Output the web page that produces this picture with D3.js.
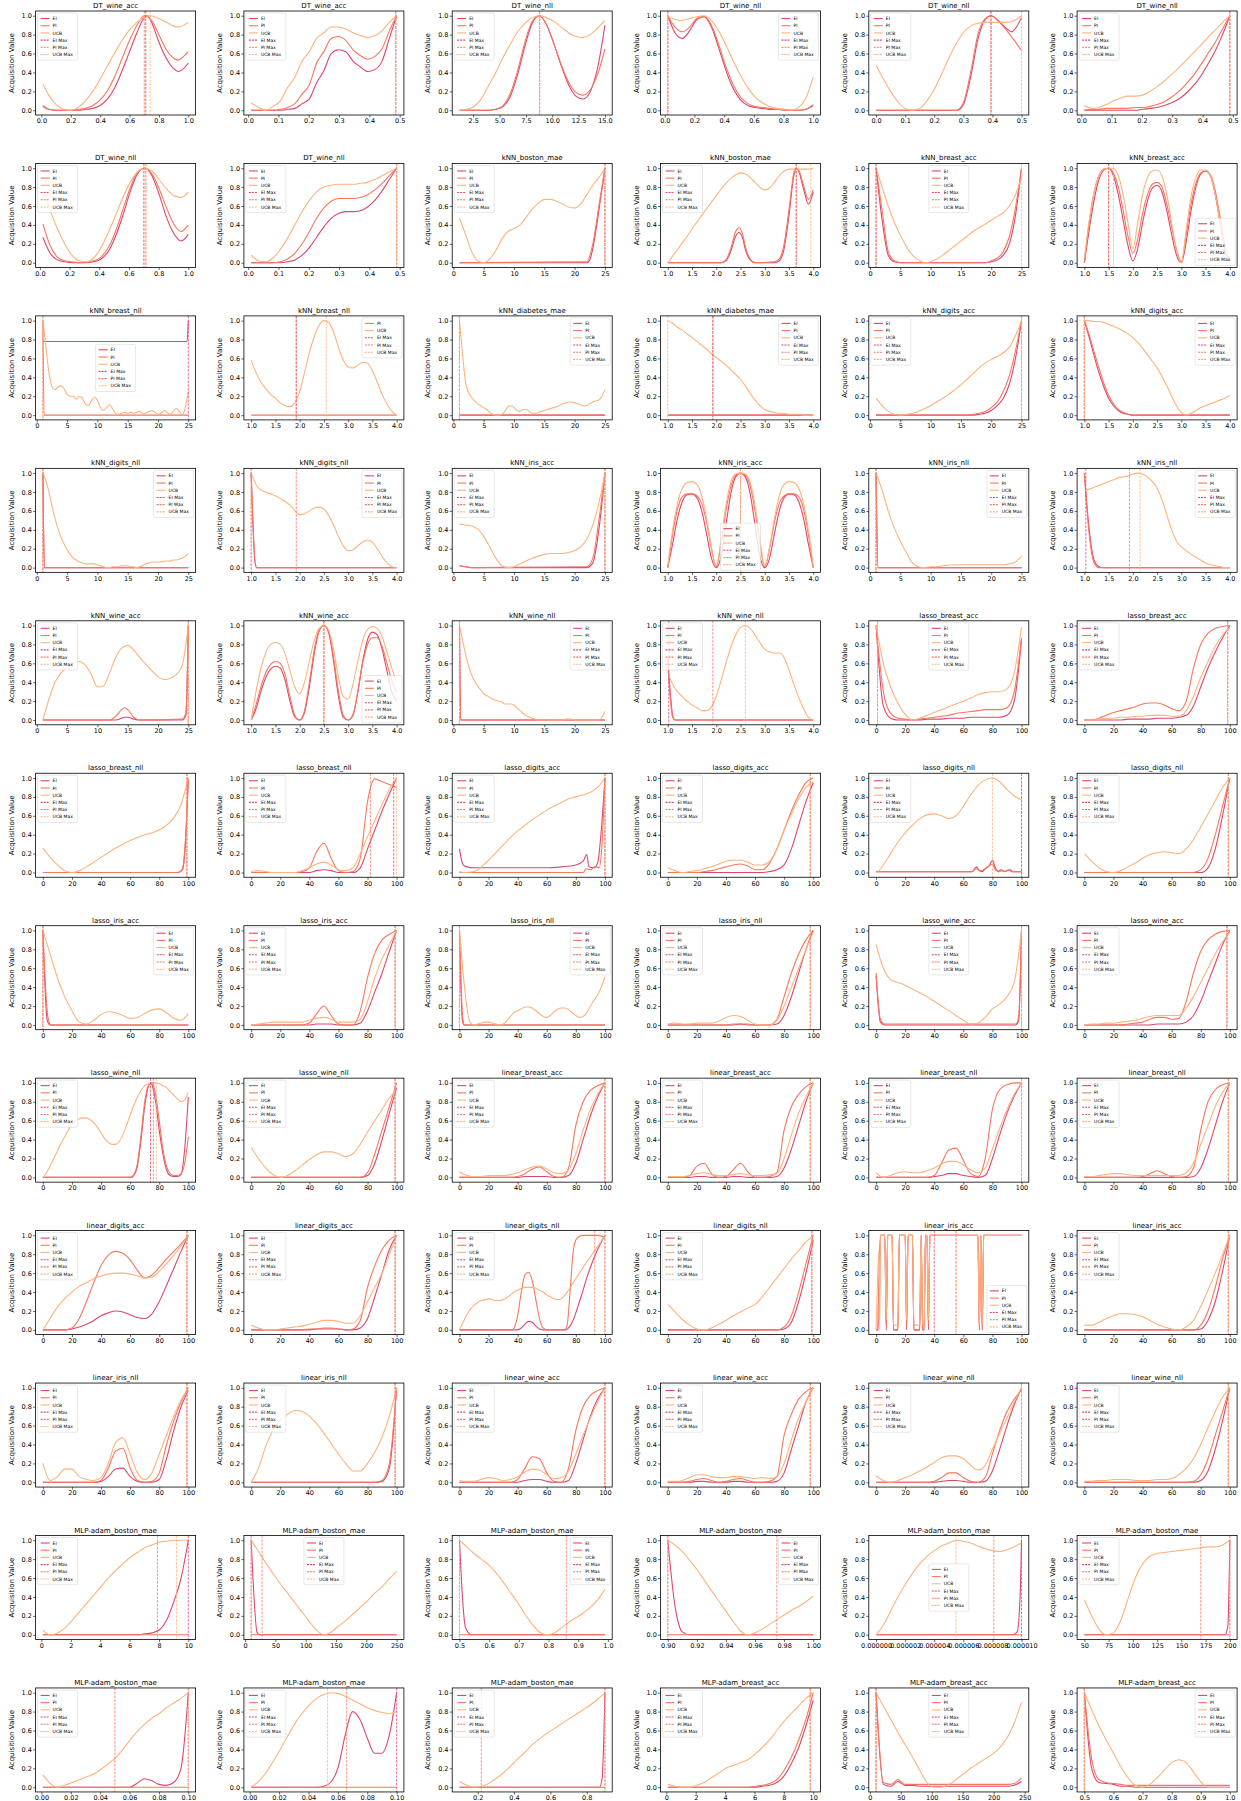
<!DOCTYPE html>
<html><head><meta charset="utf-8">
<script src="https://cdnjs.cloudflare.com/ajax/libs/d3/7.8.5/d3.min.js"></script>
<style>
body{margin:0;background:#fff;}
svg{display:block;font-family:"DejaVu Sans",sans-serif;}
</style></head><body>
<svg id="chart" width="1241" height="1801"></svg>
<script>
// ---------- DATA ----------
const titles = [
"DT_wine_acc","DT_wine_acc","DT_wine_nll","DT_wine_nll","DT_wine_nll","DT_wine_nll",
"DT_wine_nll","DT_wine_nll","kNN_boston_mae","kNN_boston_mae","kNN_breast_acc","kNN_breast_acc",
"kNN_breast_nll","kNN_breast_nll","kNN_diabetes_mae","kNN_diabetes_mae","kNN_digits_acc","kNN_digits_acc",
"kNN_digits_nll","kNN_digits_nll","kNN_iris_acc","kNN_iris_acc","kNN_iris_nll","kNN_iris_nll",
"kNN_wine_acc","kNN_wine_acc","kNN_wine_nll","kNN_wine_nll","lasso_breast_acc","lasso_breast_acc",
"lasso_breast_nll","lasso_breast_nll","lasso_digits_acc","lasso_digits_acc","lasso_digits_nll","lasso_digits_nll",
"lasso_iris_acc","lasso_iris_acc","lasso_iris_nll","lasso_iris_nll","lasso_wine_acc","lasso_wine_acc",
"lasso_wine_nll","lasso_wine_nll","linear_breast_acc","linear_breast_acc","linear_breast_nll","linear_breast_nll",
"linear_digits_acc","linear_digits_acc","linear_digits_nll","linear_digits_nll","linear_iris_acc","linear_iris_acc",
"linear_iris_nll","linear_iris_nll","linear_wine_acc","linear_wine_acc","linear_wine_nll","linear_wine_nll",
"MLP-adam_boston_mae","MLP-adam_boston_mae","MLP-adam_boston_mae","MLP-adam_boston_mae","MLP-adam_boston_mae","MLP-adam_boston_mae",
"MLP-adam_boston_mae","MLP-adam_boston_mae","MLP-adam_boston_mae","MLP-adam_breast_acc","MLP-adam_breast_acc","MLP-adam_breast_acc"
];

// data x range of every panel
const xRanges = [
[0.01,1],[0.01,0.49],[1.2,15],[0.02,1],[0,0.5],[0.01,0.49],
[0.02,1],[0.01,0.49],[1,25],[1,4],[1,25],[1,4],
[1,25],[1,4],[1,25],[1,4],[1,25],[1,4],
[1,25],[1,4],[1,25],[1,4],[1,25],[1,4],
[1,25],[1,4],[1,25],[1,4],[0,100],[0,100],
[0,100],[0,100],[0,100],[0,100],[0,100],[0,100],
[0,100],[0,100],[0,100],[0,100],[0,100],[0,100],
[0,100],[0,100],[0,100],[0,100],[0,100],[0,100],
[0,100],[0,100],[0,100],[0,100],[0,100],[0,100],
[0,100],[0,100],[0,100],[0,100],[0,100],[0,100],
[0.1,10],[10,250],[0.5,0.99],[0.9,1.0],[0,0.00001],[50,200],
[0.001,0.1],[0.001,0.1],[0.1,0.9],[0.1,10],[10,245],[0.5,1.0]
];

const T_0_1 = ["0.0","0.2","0.4","0.6","0.8","1.0"];
const T_0_05 = ["0.0","0.1","0.2","0.3","0.4","0.5"];
const T_15 = ["2.5","5.0","7.5","10.0","12.5","15.0"];
const T_25 = ["0","5","10","15","20","25"];
const T_1_4 = ["1.0","1.5","2.0","2.5","3.0","3.5","4.0"];
const T_100 = ["0","20","40","60","80","100"];
const T_10 = ["0","2","4","6","8","10"];
const T_250 = ["0","50","100","150","200","250"];
const T_05_1 = ["0.5","0.6","0.7","0.8","0.9","1.0"];
const T_09_1 = ["0.90","0.92","0.94","0.96","0.98","1.00"];
const T_tiny = ["0.000000","0.000002","0.000004","0.000006","0.000008","0.000010"];
const T_50_200 = ["50","75","100","125","150","175","200"];
const T_0_01 = ["0.00","0.02","0.04","0.06","0.08","0.10"];
const T_02_08 = ["0.2","0.4","0.6","0.8"];
const yTickLabels = ["0.0","0.2","0.4","0.6","0.8","1.0"];

const xTickLabels = [
T_0_1,T_0_05,T_15,T_0_1,T_0_05,T_0_05,
T_0_1,T_0_05,T_25,T_1_4,T_25,T_1_4,
T_25,T_1_4,T_25,T_1_4,T_25,T_1_4,
T_25,T_1_4,T_25,T_1_4,T_25,T_1_4,
T_25,T_1_4,T_25,T_1_4,T_100,T_100,
T_100,T_100,T_100,T_100,T_100,T_100,
T_100,T_100,T_100,T_100,T_100,T_100,
T_100,T_100,T_100,T_100,T_100,T_100,
T_100,T_100,T_100,T_100,T_100,T_100,
T_100,T_100,T_100,T_100,T_100,T_100,
T_10,T_250,T_05_1,T_09_1,T_tiny,T_50_200,
T_0_01,T_0_01,T_02_08,T_10,T_250,T_05_1
];

// Curves: a plain list = values at evenly spaced x over the panel range; a list of [x,y] = explicit points.
const eiValues = [
/*0*/ [[0.01,0.04],[0.05,0.01],[0.1,0],[0.25,0],[0.3,0.01],[0.35,0.02],[0.4,0.05],[0.45,0.12],[0.5,0.24],[0.55,0.42],[0.6,0.62],[0.65,0.82],[0.7,0.98],[0.72,1.0],[0.75,0.93],[0.8,0.72],[0.85,0.55],[0.9,0.44],[0.93,0.41],[0.96,0.43],[1.0,0.5]],
/*1*/ [0,0,0,0,0,0.01,0.02,0.07,0.12,0.29,0.42,0.6,0.64,0.62,0.52,0.46,0.41,0.43,0.52,0.76,1.0],
/*2*/ [0,0,0,0,0,0.01,0.04,0.15,0.38,0.68,0.92,1.0,0.9,0.7,0.47,0.27,0.15,0.12,0.2,0.45,0.9],
/*3*/ [1.0,0.82,0.76,0.84,0.96,0.99,0.88,0.66,0.42,0.23,0.11,0.05,0.03,0.02,0.01,0.01,0,0,0,0.01,0.05],
/*4*/ [[0,0],[0.28,0],[0.3,0.06],[0.325,0.35],[0.35,0.75],[0.375,0.96],[0.395,1.0],[0.42,0.95],[0.45,0.86],[0.465,0.83],[0.48,0.87],[0.5,0.98]],
/*5*/ [0,0,0,0,0,0,0,0,0.01,0.02,0.03,0.05,0.08,0.12,0.18,0.26,0.36,0.49,0.63,0.8,1.0],
/*6*/ [0.27,0.1,0.03,0.01,0,0,0,0.01,0.04,0.12,0.28,0.5,0.75,0.94,1.0,0.92,0.72,0.48,0.31,0.23,0.3],
/*7*/ [0,0,0,0,0,0.01,0.03,0.08,0.16,0.27,0.38,0.47,0.52,0.54,0.54,0.55,0.59,0.66,0.76,0.88,1.0],
/*8*/ [[1,0],[22,0],[22.5,0.03],[23,0.15],[24,0.55],[25,1.0]],
/*9*/ [[1,0],[2.1,0],[2.2,0.02],[2.3,0.12],[2.4,0.28],[2.47,0.32],[2.55,0.25],[2.6,0.14],[2.7,0.03],[2.8,0],[3.2,0],[3.3,0.02],[3.4,0.15],[3.5,0.5],[3.6,0.92],[3.65,1.0],[3.7,0.97],[3.8,0.78],[3.9,0.62],[4,0.75]],
/*10*/ [[1,1.0],[2,0.45],[3,0.08],[4,0.01],[5,0],[19,0],[20,0.01],[21,0.03],[22,0.08],[23,0.2],[24,0.5],[25,1.0]],
/*11*/ [0,0.35,0.66,0.88,0.98,1.0,0.92,0.72,0.45,0.18,0.02,0.15,0.42,0.65,0.79,0.82,0.75,0.55,0.3,0.08,0,0.22,0.55,0.8,0.94,0.97,0.92,0.72,0.42,0.13,0],
/*12*/ [[1,0.78],[24.8,0.78],[25,1.0]],
/*13*/ null,
/*14*/ [[1,0],[25,0]],
/*15*/ [[1,0],[4,0]],
/*16*/ [[1,0],[17,0],[18,0.01],[19,0.02],[20,0.05],[21,0.1],[22,0.18],[23,0.33],[24,0.6],[25,1.0]],
/*17*/ [[1,1],[1.1,0.82],[1.2,0.63],[1.3,0.45],[1.4,0.3],[1.5,0.18],[1.6,0.1],[1.7,0.05],[1.8,0.02],[1.9,0.01],[2,0],[4,0]],
/*18*/ [[1,1],[1.25,0],[25,0]],
/*19*/ [[1,1],[1.08,0.05],[1.12,0],[4,0]],
/*20*/ [[1,0.02],[2,0.01],[3,0],[22,0],[23,0.05],[24,0.4],[25,1]],
/*21*/ [0,0.25,0.52,0.7,0.77,0.78,0.74,0.6,0.36,0.1,0,0.12,0.45,0.78,0.96,1.0,0.96,0.78,0.45,0.12,0,0.1,0.36,0.6,0.74,0.78,0.77,0.7,0.52,0.25,0],
/*22*/ [[1,1],[1.3,0],[25,0]],
/*23*/ [[1,1],[1.1,0.4],[1.2,0.08],[1.3,0.01],[1.4,0],[4,0]],
/*24*/ [[1,0],[13,0],[14,0.02],[14.5,0.03],[15,0.03],[16,0.01],[17,0],[24,0],[24.6,0.05],[25,1]],
/*25*/ [0,0.12,0.3,0.45,0.54,0.57,0.55,0.42,0.2,0.03,0,0.08,0.35,0.7,0.94,1.0,0.92,0.62,0.25,0.03,0,0.05,0.3,0.62,0.85,0.93,0.9,0.75,0.52,0.3,0.2],
/*26*/ [[1,1],[1.2,0],[25,0]],
/*27*/ [[1,0.65],[1.05,0.3],[1.1,0.05],[1.15,0],[4,0]],
/*28*/ [1.0,0.15,0.02,0,0,0,0,0.01,0.01,0.01,0.02,0.02,0.02,0.03,0.03,0.03,0.03,0.03,0.05,0.2,0.85],
/*29*/ [0,0,0,0,0,0,0.01,0.01,0.01,0.01,0.02,0.02,0.02,0.03,0.05,0.15,0.35,0.55,0.72,0.87,1.0],
/*30*/ [[0,0],[93,0],[96,0.03],[98,0.3],[100,1.0]],
/*31*/ [0,0,0,0,0,0,0,0,0,0.02,0.03,0.02,0,0,0,0.05,0.25,0.45,0.65,0.83,1.0],
/*32*/ [[0,0.25],[2.5,0.08],[5,0.06],[10,0.05],[60,0.05],[70,0.06],[80,0.08],[85,0.12],[87.5,0.19],[89,0.06],[92.5,0.05],[95,0.1],[97.5,0.45],[100,1.0]],
/*33*/ [0,0,0,0,0,0,0,0,0,0,0,0,0,0,0.01,0.03,0.08,0.25,0.5,0.75,0.95],
/*34*/ [[0,0.01],[66,0.01],[69,0.06],[71,0.02],[73,0.01],[75,0.04],[78,0.08],[80,0.13],[82,0.05],[84,0.01],[86,0.03],[88,0.01],[90,0.02],[92,0.03],[94,0.01],[100,0.01]],
/*35*/ [0,0,0,0,0,0,0,0,0,0,0,0,0,0,0,0,0,0.05,0.25,0.6,1.0],
/*36*/ [[0,1],[3,0.05],[5,0],[100,0]],
/*37*/ [0,0,0,0,0,0,0,0,0,0.01,0.01,0.01,0,0,0,0.02,0.15,0.35,0.55,0.78,1.0],
/*38*/ [[0,1],[2,0.05],[3,0],[100,0]],
/*39*/ [0,0,0,0,0,0,0,0,0,0,0.01,0,0,0,0,0.01,0.1,0.3,0.55,0.8,1.0],
/*40*/ [[0,0.52],[3,0.03],[6,0],[96,0],[98,0.05],[100,1.0]],
/*41*/ [0,0,0,0,0,0,0,0,0,0,0.01,0.01,0.01,0.01,0.03,0.1,0.25,0.45,0.65,0.85,1.0],
/*42*/ [[0,0],[61,0],[62.5,0.02],[65,0.12],[67.5,0.4],[70,0.75],[72.5,0.96],[74,1.0],[75,0.98],[77.5,0.8],[80,0.5],[82.5,0.25],[85,0.08],[87.5,0.02],[90,0.01],[92.5,0.01],[95,0.03],[97.5,0.3],[100,0.85]],
/*43*/ [0,0,0,0,0,0,0,0,0,0,0,0,0,0,0,0,0.02,0.15,0.4,0.68,0.95],
/*44*/ [0,0,0,0,0,0,0,0,0,0.01,0.01,0.01,0.01,0,0,0.02,0.15,0.4,0.65,0.85,1.0],
/*45*/ [0,0,0,0,0.01,0.01,0,0,0,0.01,0.01,0,0,0,0,0.01,0.1,0.3,0.55,0.8,1.0],
/*46*/ [0,0,0,0,0,0,0,0,0.01,0.02,0.04,0.04,0.02,0.01,0,0.02,0.2,0.45,0.68,0.86,1.0],
/*47*/ [0,0,0,0,0,0,0,0,0,0,0,0,0,0,0,0.01,0.1,0.3,0.55,0.8,1.0],
/*48*/ [0,0,0,0,0.01,0.03,0.06,0.1,0.15,0.18,0.2,0.19,0.16,0.13,0.12,0.17,0.3,0.47,0.65,0.83,1.0],
/*49*/ [0,0,0,0,0,0,0,0,0,0.01,0.01,0.01,0.01,0,0,0.02,0.12,0.35,0.6,0.85,1.0],
/*50*/ [[0,0],[40,0],[42.5,0.02],[45,0.06],[47.5,0.09],[50,0.08],[52.5,0.04],[55,0.01],[57.5,0],[73,0],[75,0.02],[77.5,0.08],[80,0.18],[82.5,0.3],[85,0.42],[87.5,0.55],[90,0.66],[92.5,0.76],[95,0.85],[97.5,0.93],[100,1.0]],
/*51*/ [0,0,0,0,0,0,0,0,0,0,0,0,0,0,0,0,0.01,0.08,0.3,0.6,0.95],
/*52*/ [[0,0],[1.5,0],[2.5,0.5],[3,1],[6,1],[7,0],[8,1],[11,1],[12,0],[15,0],[16,1],[20,1],[21,0],[22,1],[25,1],[26,0],[30,0],[31,1],[32,0],[33,0],[34,1],[35,1],[36,0],[37,1],[70,1],[71,0],[72,1],[73,0],[74,1],[100,1]],
/*53*/ [0,0,0,0,0,0,0,0,0,0,0,0,0,0,0,0,0.01,0.1,0.3,0.62,1.0],
/*54*/ [0,0,0,0,0,0,0,0,0.01,0.06,0.14,0.15,0.06,0.01,0,0,0.03,0.25,0.55,0.8,0.97],
/*55*/ [0,0,0,0,0,0,0,0,0,0,0,0,0,0,0,0,0,0,0.01,0.15,1.0],
/*56*/ [0,0,0,0,0,0,0,0,0,0.02,0.03,0.03,0.01,0,0,0.02,0.2,0.45,0.7,0.88,1.0],
/*57*/ [0,0,0,0,0.01,0.01,0,0,0,0.01,0.01,0,0,0,0,0.01,0.1,0.35,0.6,0.85,1.0],
/*58*/ [0,0,0,0,0,0,0,0,0,0.01,0.02,0.02,0.01,0,0,0.01,0.12,0.35,0.6,0.82,1.0],
/*59*/ [0,0,0,0,0,0,0,0,0,0,0,0,0,0,0,0,0.02,0.12,0.35,0.65,1.0],
/*60*/ [0,0,0,0,0,0,0,0,0,0,0,0,0,0,0.01,0.02,0.05,0.15,0.35,0.6,1.0],
/*61*/ [[10,1],[20,0.02],[25,0],[250,0]],
/*62*/ [[0.5,1],[0.51,0.4],[0.52,0.08],[0.54,0],[0.99,0]],
/*63*/ [[0.9,1],[0.905,0.3],[0.91,0.03],[0.915,0],[1.0,0]],
/*64*/ [[0,0],[0.0000094,0],[0.0000097,0.03],[0.0000099,0.4],[0.00001,1]],
/*65*/ [[50,0],[195,0],[198,0.1],[200,1]],
/*66*/ [[0.001,0],[0.06,0],[0.065,0.04],[0.07,0.09],[0.075,0.07],[0.08,0.03],[0.085,0.02],[0.09,0.05],[0.095,0.2],[0.1,1]],
/*67*/ [[0.001,0],[0.046,0],[0.0505,0.01],[0.055,0.05],[0.06,0.2],[0.065,0.55],[0.07,0.8],[0.075,0.72],[0.08,0.52],[0.085,0.36],[0.09,0.36],[0.095,0.55],[0.1,1]],
/*68*/ [[0.1,0],[0.87,0],[0.885,0.1],[0.9,1]],
/*69*/ [0,0,0,0,0,0,0,0,0,0,0,0,0,0.01,0.02,0.05,0.12,0.25,0.42,0.65,0.92],
/*70*/ [1.0,0.03,0.01,0.06,0.02,0.02,0.01,0.01,0.01,0.01,0.01,0.01,0.01,0.01,0.01,0.01,0.01,0.01,0.01,0.02,0.06],
/*71*/ [1.0,0.2,0.05,0.04,0.03,0.01,0.01,0,0,0,0,0,0,0,0,0,0,0,0,0,0]
];

const piValues = [
/*0*/ [[0.01,0.05],[0.05,0.01],[0.1,0],[0.2,0],[0.25,0.01],[0.3,0.02],[0.35,0.05],[0.4,0.11],[0.45,0.21],[0.5,0.36],[0.55,0.55],[0.6,0.74],[0.65,0.9],[0.7,1.0],[0.75,0.95],[0.8,0.8],[0.85,0.64],[0.9,0.55],[0.93,0.53],[0.96,0.56],[1.0,0.62]],
/*1*/ [0,0,0,0,0.01,0.03,0.07,0.17,0.27,0.5,0.62,0.76,0.78,0.74,0.64,0.58,0.54,0.57,0.65,0.84,1.0],
/*2*/ [0,0,0,0,0,0.01,0.05,0.18,0.42,0.72,0.94,1.0,0.9,0.7,0.48,0.3,0.19,0.16,0.22,0.38,0.65],
/*3*/ [1.0,0.88,0.83,0.88,0.97,0.99,0.9,0.7,0.46,0.27,0.14,0.07,0.04,0.03,0.02,0.01,0.01,0,0,0.01,0.06],
/*4*/ [[0,0],[0.275,0],[0.3,0.08],[0.325,0.4],[0.35,0.8],[0.375,0.97],[0.395,1.0],[0.425,0.93],[0.45,0.84],[0.475,0.74],[0.5,0.63]],
/*5*/ [0,0.01,0.01,0.02,0.02,0.02,0.02,0.03,0.03,0.04,0.06,0.09,0.14,0.2,0.28,0.37,0.48,0.6,0.72,0.86,1.0],
/*6*/ [0.41,0.18,0.06,0.02,0.01,0,0.01,0.02,0.06,0.16,0.33,0.56,0.79,0.96,1.0,0.94,0.78,0.58,0.41,0.33,0.4],
/*7*/ [0,0,0,0,0.01,0.04,0.1,0.2,0.33,0.47,0.58,0.65,0.68,0.68,0.68,0.69,0.72,0.77,0.84,0.92,1.0],
/*8*/ [[1,0],[22,0.01],[23,0.2],[24,0.6],[25,1.0]],
/*9*/ [[1,0],[2.1,0],[2.2,0.03],[2.3,0.15],[2.4,0.33],[2.47,0.37],[2.55,0.29],[2.6,0.17],[2.7,0.04],[2.8,0],[3.2,0.01],[3.3,0.04],[3.4,0.2],[3.5,0.56],[3.6,0.95],[3.65,1.0],[3.7,0.98],[3.8,0.82],[3.9,0.67],[4,0.77]],
/*10*/ [[1,1.0],[2,0.55],[3,0.12],[4,0.02],[5,0],[19,0],[20,0.02],[21,0.05],[22,0.12],[23,0.28],[24,0.58],[25,1.0]],
/*11*/ [0,0.42,0.74,0.92,0.99,1.0,0.95,0.8,0.55,0.28,0.1,0.25,0.52,0.72,0.83,0.85,0.8,0.62,0.38,0.14,0.01,0.3,0.62,0.84,0.95,0.97,0.93,0.76,0.48,0.18,0],
/*12*/ [[1,1.0],[1.2,0],[25,0]],
/*13*/ [[1,0],[4,0]],
/*14*/ [[1,0],[25,0]],
/*15*/ [[1,0],[4,0]],
/*16*/ [[1,0],[16,0],[17,0.01],[18,0.02],[19,0.04],[20,0.08],[21,0.14],[22,0.25],[23,0.42],[24,0.68],[25,1.0]],
/*17*/ [[1,1],[1.1,0.85],[1.2,0.67],[1.3,0.5],[1.4,0.34],[1.5,0.21],[1.6,0.12],[1.7,0.06],[1.8,0.03],[1.9,0.01],[2.0,0],[4,0]],
/*18*/ [[1,1],[1.3,0],[25,0]],
/*19*/ [[1,1],[1.1,0],[4,0]],
/*20*/ [[1,0.02],[2,0.01],[3,0],[22,0.01],[23,0.1],[24,0.5],[25,1]],
/*21*/ [0,0.35,0.62,0.75,0.78,0.78,0.76,0.68,0.48,0.2,0.01,0.25,0.6,0.86,0.98,1.0,0.98,0.86,0.6,0.25,0.01,0.2,0.48,0.68,0.76,0.78,0.78,0.75,0.62,0.35,0],
/*22*/ [[1,1],[1.35,0],[25,0]],
/*23*/ [[1,1],[1.1,0.35],[1.2,0.05],[1.3,0],[4,0]],
/*24*/ [[1,0],[12,0],[13,0.04],[14,0.11],[14.5,0.13],[15,0.11],[16,0.03],[17,0],[24,0.01],[24.6,0.08],[25,1]],
/*25*/ [0,0.16,0.35,0.5,0.59,0.62,0.6,0.48,0.25,0.05,0,0.1,0.4,0.74,0.95,1.0,0.94,0.66,0.3,0.05,0,0.06,0.3,0.6,0.8,0.87,0.87,0.78,0.6,0.42,0.3],
/*26*/ [[1,1],[1.2,0],[25,0]],
/*27*/ [[1,0.6],[1.05,0.25],[1.1,0.03],[1.15,0],[4,0]],
/*28*/ [1.0,0.3,0.07,0.02,0.01,0,0.01,0.02,0.03,0.04,0.05,0.07,0.08,0.09,0.1,0.11,0.11,0.11,0.13,0.3,0.87],
/*29*/ [0,0,0.02,0.05,0.08,0.1,0.12,0.14,0.17,0.18,0.18,0.16,0.12,0.1,0.2,0.55,0.8,0.92,0.97,0.99,1.0],
/*30*/ [[0,0],[93,0],[96,0.04],[98,0.35],[100,1.0]],
/*31*/ [0,0,0,0,0,0,0,0.01,0.05,0.22,0.31,0.15,0.02,0,0.01,0.15,0.75,0.99,0.96,0.93,0.9],
/*32*/ [[0,0],[85,0],[87,0.04],[90,0.03],[93,0.06],[96,0.05],[98,0.3],[100,1.0]],
/*33*/ [0,0,0,0,0,0.01,0.02,0.04,0.06,0.08,0.09,0.07,0.03,0.03,0.1,0.25,0.45,0.65,0.82,0.95,1.0],
/*34*/ [[0,0.01],[66,0.01],[69,0.04],[71,0.02],[74,0.03],[77,0.06],[80,0.09],[82,0.03],[84,0.01],[87,0.02],[89,0.01],[91,0.03],[93,0.01],[100,0.01]],
/*35*/ [0,0,0,0,0,0,0,0,0,0,0,0,0,0,0,0,0.03,0.15,0.4,0.7,1.0],
/*36*/ [[0,1],[3.5,0.08],[5.5,0],[100,0]],
/*37*/ [0,0,0,0,0,0,0,0,0.02,0.12,0.2,0.1,0.01,0,0,0.15,0.5,0.76,0.9,0.96,1.0],
/*38*/ [[0,1],[2.2,0.08],[3.5,0],[100,0]],
/*39*/ [0,0,0,0,0,0,0,0,0,0.01,0.01,0.01,0,0,0,0.06,0.3,0.55,0.75,0.9,1.0],
/*40*/ [[0,0.55],[3,0.06],[6,0.01],[96,0.01],[98,0.08],[100,1.0]],
/*41*/ [0,0,0,0,0,0,0.01,0.02,0.03,0.06,0.08,0.08,0.06,0.07,0.25,0.55,0.78,0.9,0.96,0.99,1.0],
/*42*/ [[0,0],[60,0],[62.5,0.03],[65,0.15],[67.5,0.45],[70,0.8],[72.5,0.97],[75,1.0],[77.5,0.88],[80,0.6],[82.5,0.3],[85,0.12],[87.5,0.04],[90,0.02],[92.5,0.02],[95,0.04],[97.5,0.15],[100,0.43]],
/*43*/ [0,0,0,0,0,0,0,0,0,0,0,0,0,0,0,0,0.05,0.25,0.5,0.75,1.0],
/*44*/ [0,0,0,0,0,0,0,0,0.01,0.04,0.09,0.11,0.06,0.01,0,0.1,0.55,0.8,0.92,0.97,1.0],
/*45*/ [0,0,0,0.02,0.12,0.15,0.04,0,0.01,0.08,0.15,0.06,0,0,0.01,0.05,0.5,0.75,0.88,0.96,1.0],
/*46*/ [0,0,0,0,0,0,0,0,0.02,0.15,0.29,0.31,0.18,0.04,0.01,0.2,0.72,0.93,0.98,1.0,1.0],
/*47*/ [0,0,0,0,0,0,0,0,0.01,0.04,0.07,0.04,0.01,0,0.01,0.1,0.5,0.8,0.93,0.98,1.0],
/*48*/ [0,0,0,0,0.02,0.12,0.3,0.5,0.68,0.79,0.83,0.81,0.74,0.63,0.55,0.58,0.66,0.75,0.83,0.91,1.0],
/*49*/ [0,0,0,0,0,0,0,0,0.01,0.01,0.02,0.02,0.01,0,0.01,0.1,0.45,0.68,0.85,0.95,1.0],
/*50*/ [[0,0],[36,0],[37.5,0.02],[40,0.15],[42.5,0.4],[45,0.58],[47.5,0.61],[50,0.52],[52.5,0.32],[55,0.12],[57.5,0.02],[60,0],[72,0],[74,0.05],[76,0.4],[78,0.8],[80,0.95],[82.5,0.99],[85,1.0],[95,1.0],[100,0.98]],
/*51*/ [0,0,0,0,0,0,0,0,0,0,0,0,0,0,0,0,0.03,0.15,0.4,0.7,1.0],
/*52*/ [[0,0],[1,0],[2,0.6],[3,1],[6,1],[7,0.05],[8,1],[11,1],[12,0],[15,0],[16,1],[20,1],[21,0.05],[22,1],[25,1],[26,0],[30,0],[31,1],[32,0],[33,0],[34,1],[35,1],[36,0.05],[37,1],[70,1],[71,0],[72,1],[73,0],[74,1],[100,1]],
/*53*/ [0,0,0,0,0,0,0,0,0,0,0,0,0,0,0,0,0.05,0.2,0.45,0.75,1.0],
/*54*/ [0,0,0,0,0,0,0,0,0.02,0.15,0.33,0.36,0.15,0.02,0,0.01,0.1,0.4,0.65,0.85,1.0],
/*55*/ [0,0,0,0,0,0,0,0,0,0,0,0,0,0,0,0,0,0,0.02,0.2,1.0],
/*56*/ [0,0,0,0,0,0,0,0,0.03,0.15,0.27,0.25,0.1,0.01,0,0.15,0.55,0.8,0.92,0.97,1.0],
/*57*/ [0,0,0,0.01,0.03,0.04,0.02,0,0.01,0.03,0.04,0.02,0,0,0.01,0.06,0.5,0.72,0.88,0.96,1.0],
/*58*/ [0,0,0,0,0,0,0,0,0.01,0.05,0.1,0.1,0.05,0.01,0,0.05,0.3,0.55,0.75,0.88,0.98],
/*59*/ [0,0,0,0,0,0,0,0,0,0,0,0,0,0,0,0.01,0.08,0.25,0.5,0.75,1.0],
/*60*/ [[0.1,0],[10,0]],
/*61*/ [[10,0],[250,0]],
/*62*/ [[0.5,0],[0.99,0]],
/*63*/ [[0.9,0],[1.0,0]],
/*64*/ [[0,0],[0.00001,0]],
/*65*/ [[50,0],[200,0]],
/*66*/ [[0.001,0],[0.1,0]],
/*67*/ [[0.001,0],[0.1,0]],
/*68*/ [[0.1,0],[0.9,0]],
/*69*/ [0,0,0,0,0,0,0,0,0,0,0,0,0.01,0.02,0.04,0.08,0.18,0.32,0.5,0.72,1.0],
/*70*/ [1.0,0.05,0.03,0.08,0.03,0.03,0.03,0.03,0.03,0.03,0.03,0.03,0.03,0.03,0.03,0.03,0.03,0.03,0.03,0.04,0.1],
/*71*/ [1.0,0.3,0.08,0.05,0.04,0.03,0.02,0.02,0.02,0.02,0.02,0.02,0.02,0.02,0.02,0.02,0.02,0.02,0.02,0.02,0.02]
];

const ucbValues = [
/*0*/ [[0.01,0.28],[0.05,0.16],[0.1,0.06],[0.15,0.01],[0.2,0],[0.25,0.03],[0.3,0.1],[0.35,0.2],[0.4,0.33],[0.45,0.47],[0.5,0.61],[0.55,0.74],[0.6,0.85],[0.65,0.93],[0.7,0.98],[0.74,1.0],[0.8,0.97],[0.85,0.93],[0.9,0.89],[0.93,0.88],[1.0,0.93]],
/*1*/ [0.08,0.03,0,0.04,0.1,0.24,0.35,0.52,0.62,0.76,0.82,0.88,0.88,0.86,0.82,0.79,0.77,0.79,0.84,0.93,1.0],
/*2*/ [0,0.01,0.04,0.12,0.26,0.4,0.56,0.7,0.83,0.92,0.98,1.0,0.98,0.94,0.88,0.82,0.78,0.77,0.8,0.87,0.95],
/*3*/ [0.99,0.96,0.95,0.97,0.99,1.0,0.95,0.84,0.69,0.52,0.37,0.24,0.14,0.08,0.04,0.02,0.01,0,0.03,0.13,0.35],
/*4*/ [0.48,0.33,0.2,0.09,0.02,0,0.02,0.1,0.22,0.38,0.55,0.7,0.82,0.89,0.92,0.93,0.93,0.93,0.93,0.95,1.0],
/*5*/ [0.05,0.02,0.03,0.06,0.1,0.13,0.15,0.15,0.16,0.2,0.25,0.31,0.38,0.45,0.53,0.61,0.69,0.77,0.85,0.93,1.0],
/*6*/ [0.75,0.55,0.36,0.2,0.08,0.02,0.01,0.05,0.16,0.32,0.5,0.69,0.85,0.96,1.0,0.97,0.88,0.78,0.71,0.69,0.75],
/*7*/ [0.08,0.02,0.01,0.05,0.14,0.26,0.4,0.54,0.66,0.75,0.8,0.82,0.83,0.83,0.83,0.84,0.85,0.88,0.92,0.96,1.0],
/*8*/ [0.47,0.3,0.12,0.02,0,0.04,0.13,0.25,0.33,0.36,0.4,0.48,0.57,0.63,0.67,0.67,0.65,0.62,0.59,0.58,0.62,0.72,0.82,0.9,1.0],
/*9*/ [0,0.07,0.14,0.21,0.28,0.36,0.43,0.5,0.57,0.64,0.71,0.78,0.84,0.89,0.93,0.95,0.94,0.9,0.85,0.8,0.77,0.79,0.85,0.92,0.97,0.99,0.99,0.99,0.99,0.99,1.0],
/*10*/ [1.0,0.8,0.6,0.43,0.29,0.17,0.08,0.03,0,0.01,0.04,0.08,0.13,0.18,0.23,0.28,0.33,0.37,0.41,0.45,0.49,0.53,0.6,0.72,0.9],
/*11*/ [0.05,0.45,0.75,0.92,0.99,1.0,1.0,0.92,0.72,0.42,0.15,0.42,0.72,0.9,0.97,0.98,0.92,0.72,0.42,0.13,0,0.35,0.7,0.9,0.98,0.98,0.92,0.72,0.42,0.15,0],
/*12*/ [1.0,0.72,0.45,0.3,0.27,0.3,0.31,0.28,0.22,0.2,0.2,0.17,0.2,0.18,0.12,0.1,0.15,0.19,0.16,0.08,0.05,0.08,0.11,0.07,0.02,0.01,0.02,0.03,0.02,0.03,0.02,0.03,0.04,0.02,0.02,0.04,0.05,0.03,0.01,0.02,0.05,0.03,0.01,0.04,0.07,0.04,0,0.08,0.25],
/*13*/ [0.58,0.45,0.35,0.28,0.22,0.18,0.13,0.1,0.09,0.13,0.25,0.45,0.66,0.83,0.95,1.0,0.98,0.88,0.72,0.58,0.51,0.5,0.53,0.56,0.55,0.47,0.35,0.22,0.12,0.04,0],
/*14*/ [1.0,0.65,0.35,0.24,0.19,0.15,0.12,0.1,0.08,0.06,0.03,0.01,0,0,0.01,0.04,0.09,0.1,0.08,0.05,0.04,0.06,0.06,0.04,0.02,0.02,0.03,0.04,0.05,0.06,0.07,0.08,0.09,0.1,0.12,0.13,0.14,0.14,0.13,0.12,0.11,0.1,0.1,0.12,0.14,0.15,0.16,0.2,0.27],
/*15*/ [1.0,0.97,0.93,0.9,0.86,0.82,0.78,0.74,0.7,0.65,0.61,0.57,0.53,0.48,0.43,0.38,0.31,0.23,0.16,0.1,0.06,0.04,0.03,0.02,0.02,0.01,0.01,0.01,0,0,0],
/*16*/ [0.18,0.1,0.04,0.01,0,0.01,0.02,0.04,0.07,0.1,0.14,0.18,0.22,0.27,0.32,0.38,0.44,0.5,0.55,0.59,0.62,0.66,0.72,0.84,1.0],
/*17*/ [1.0,1.0,0.99,0.99,0.98,0.96,0.94,0.92,0.89,0.86,0.82,0.77,0.71,0.64,0.57,0.5,0.41,0.31,0.2,0.1,0.03,0,0.02,0.05,0.08,0.1,0.12,0.14,0.16,0.18,0.21],
/*18*/ [1.0,0.92,0.8,0.65,0.52,0.41,0.32,0.25,0.19,0.14,0.1,0.08,0.06,0.05,0.04,0.04,0.04,0.04,0.03,0.02,0.01,0,0,0.01,0.01,0.01,0.02,0.02,0.02,0.01,0.01,0,0.01,0.02,0.04,0.05,0.06,0.06,0.06,0.06,0.07,0.07,0.07,0.08,0.08,0.09,0.1,0.12,0.15],
/*19*/ [1.0,0.88,0.82,0.8,0.78,0.76,0.73,0.7,0.66,0.6,0.56,0.57,0.6,0.63,0.64,0.62,0.55,0.45,0.33,0.23,0.18,0.19,0.23,0.27,0.29,0.27,0.2,0.12,0.05,0.01,0],
/*20*/ [0.46,0.45,0.44,0.41,0.33,0.22,0.1,0.02,0,0.01,0.04,0.07,0.1,0.12,0.14,0.15,0.15,0.15,0.16,0.18,0.22,0.3,0.45,0.68,1.0],
/*21*/ [0.02,0.4,0.68,0.84,0.9,0.91,0.88,0.76,0.52,0.22,0.02,0.3,0.66,0.9,0.99,1.0,0.99,0.9,0.66,0.3,0.02,0.22,0.52,0.76,0.88,0.91,0.9,0.84,0.68,0.4,0.02],
/*22*/ [[1,1],[2,0.82],[3,0.6],[4,0.42],[5,0.28],[6,0.16],[7,0.05],[8,0.01],[9,0],[10,0.01],[11,0.01],[12,0.02],[15,0.03],[20,0.03],[22,0.03],[23,0.04],[24,0.06],[25,0.12]],
/*23*/ [0.82,0.83,0.85,0.87,0.89,0.91,0.93,0.95,0.96,0.97,0.99,1.0,0.99,0.96,0.91,0.84,0.72,0.56,0.4,0.28,0.22,0.18,0.14,0.11,0.08,0.05,0.03,0.02,0.01,0,0],
/*24*/ [0,0.22,0.4,0.5,0.56,0.6,0.62,0.58,0.48,0.35,0.36,0.5,0.66,0.76,0.79,0.74,0.66,0.59,0.52,0.46,0.43,0.44,0.48,0.58,1.0],
/*25*/ [0,0.3,0.55,0.71,0.8,0.82,0.8,0.7,0.52,0.35,0.28,0.4,0.62,0.84,0.97,1.0,0.95,0.75,0.45,0.25,0.22,0.38,0.62,0.84,0.96,0.99,0.97,0.88,0.72,0.55,0.4],
/*26*/ [1.0,0.85,0.7,0.57,0.48,0.41,0.36,0.32,0.28,0.26,0.24,0.22,0.21,0.2,0.19,0.17,0.17,0.17,0.16,0.13,0.1,0.07,0.05,0.03,0.02,0.01,0,0,0,0,0,0,0,0,0,0.01,0.01,0.01,0,0,0,0,0,0,0,0,0,0.03,0.09],
/*27*/ [0.5,0.38,0.3,0.25,0.2,0.16,0.13,0.1,0.1,0.14,0.25,0.42,0.6,0.77,0.9,0.98,1.0,0.97,0.9,0.82,0.75,0.72,0.71,0.71,0.66,0.53,0.38,0.24,0.12,0.03,0],
/*28*/ [1.0,0.6,0.35,0.18,0.06,0,0.02,0.05,0.08,0.11,0.14,0.17,0.2,0.23,0.27,0.29,0.3,0.3,0.33,0.5,0.98],
/*29*/ [0,0,0.01,0.02,0.02,0.03,0.03,0.04,0.04,0.05,0.05,0.05,0.04,0.04,0.1,0.25,0.45,0.62,0.78,0.9,0.98],
/*30*/ [0.26,0.16,0.08,0.02,0,0.02,0.06,0.11,0.16,0.21,0.26,0.3,0.34,0.37,0.4,0.42,0.45,0.5,0.58,0.72,1.0],
/*31*/ [0.01,0.02,0.01,0,0,0,0,0.02,0.05,0.09,0.11,0.08,0.03,0.02,0.05,0.2,0.38,0.55,0.72,0.88,1.0],
/*32*/ [[0,0.01],[3,0],[10,0.01],[15,0.06],[20,0.13],[25,0.21],[30,0.29],[35,0.37],[40,0.44],[45,0.5],[50,0.56],[55,0.61],[60,0.66],[65,0.7],[70,0.74],[75,0.78],[80,0.8],[85,0.82],[90,0.85],[95,0.9],[100,1.0]],
/*33*/ [0.05,0.02,0,0.01,0.02,0.04,0.06,0.09,0.12,0.13,0.13,0.11,0.08,0.08,0.12,0.25,0.45,0.62,0.78,0.9,0.96],
/*34*/ [[1,0],[5,0.08],[10,0.2],[15,0.32],[20,0.42],[25,0.5],[30,0.57],[35,0.61],[40,0.62],[45,0.6],[50,0.57],[55,0.6],[60,0.7],[65,0.82],[70,0.92],[75,0.98],[80,1.0],[85,0.96],[90,0.88],[95,0.81],[100,0.77]],
/*35*/ [0.2,0.12,0.05,0.01,0,0.02,0.06,0.1,0.15,0.19,0.21,0.22,0.21,0.2,0.25,0.35,0.48,0.62,0.76,0.9,1.0],
/*36*/ [1.0,0.75,0.5,0.3,0.15,0.03,0.01,0.05,0.11,0.14,0.13,0.1,0.07,0.08,0.12,0.16,0.17,0.13,0.07,0.05,0.12],
/*37*/ [0,0.01,0.02,0.03,0.03,0.03,0.03,0.03,0.05,0.07,0.08,0.06,0.03,0.03,0.03,0.06,0.25,0.5,0.7,0.85,1.0],
/*38*/ [1.0,0.55,0.2,0.02,0,0.01,0.02,0.03,0.03,0.02,0.01,0,0.01,0.04,0.09,0.13,0.15,0.17,0.19,0.19,0.18,0.15,0.12,0.09,0.08,0.1,0.14,0.17,0.18,0.18,0.16,0.13,0.1,0.08,0.09,0.13,0.2,0.26,0.32,0.4,0.51],
/*39*/ [0.01,0.02,0.01,0.01,0.02,0.02,0.02,0.04,0.08,0.1,0.09,0.05,0.01,0,0,0.05,0.2,0.4,0.6,0.8,0.98],
/*40*/ [0.85,0.6,0.48,0.45,0.42,0.38,0.34,0.3,0.25,0.2,0.15,0.1,0.05,0.01,0.02,0.08,0.17,0.22,0.3,0.45,1.0],
/*41*/ [0,0.01,0.01,0.02,0.02,0.03,0.04,0.05,0.07,0.09,0.1,0.1,0.1,0.1,0.18,0.3,0.45,0.6,0.75,0.88,0.98],
/*42*/ [0,0.05,0.12,0.2,0.28,0.36,0.43,0.5,0.55,0.59,0.62,0.63,0.63,0.61,0.58,0.53,0.47,0.41,0.37,0.35,0.35,0.38,0.45,0.55,0.66,0.76,0.85,0.92,0.97,0.99,1.0,1.0,0.99,0.97,0.95,0.91,0.87,0.83,0.8,0.82,0.9],
/*43*/ [0.32,0.2,0.1,0.03,0,0.02,0.07,0.13,0.19,0.24,0.27,0.27,0.25,0.22,0.25,0.35,0.48,0.6,0.72,0.84,0.92],
/*44*/ [0.06,0.02,0.01,0.01,0.02,0.02,0.02,0.03,0.05,0.08,0.11,0.12,0.09,0.05,0.04,0.08,0.25,0.5,0.72,0.88,1.0],
/*45*/ [0.01,0.01,0.01,0.02,0.04,0.05,0.03,0.02,0.02,0.03,0.04,0.03,0.02,0.02,0.03,0.04,0.2,0.45,0.68,0.85,1.0],
/*46*/ [0.05,0,0.02,0.05,0.06,0.05,0.05,0.07,0.1,0.14,0.17,0.17,0.13,0.08,0.05,0.1,0.3,0.52,0.72,0.88,1.0],
/*47*/ [0.01,0.01,0.02,0.03,0.04,0.04,0.03,0.02,0.02,0.02,0.02,0.02,0.02,0.02,0.05,0.15,0.35,0.55,0.75,0.9,1.0],
/*48*/ [0,0.12,0.24,0.33,0.4,0.46,0.5,0.54,0.57,0.59,0.6,0.6,0.59,0.57,0.55,0.56,0.62,0.7,0.79,0.89,1.0],
/*49*/ [0.05,0.02,0,0,0.01,0.02,0.03,0.04,0.06,0.08,0.1,0.1,0.09,0.07,0.07,0.15,0.3,0.45,0.6,0.8,1.0],
/*50*/ [0,0.08,0.16,0.22,0.26,0.29,0.31,0.32,0.33,0.32,0.31,0.31,0.32,0.34,0.37,0.4,0.42,0.44,0.45,0.45,0.45,0.44,0.42,0.4,0.37,0.35,0.33,0.32,0.33,0.37,0.42,0.48,0.54,0.6,0.66,0.72,0.77,0.83,0.88,0.94,1.0],
/*51*/ [0.27,0.19,0.11,0.05,0.01,0,0.02,0.06,0.1,0.15,0.19,0.23,0.27,0.35,0.45,0.55,0.65,0.75,0.84,0.93,1.0],
/*52*/ [[0,0],[1,0.5],[2,0.85],[2.5,0],[3,1],[6,1],[7,0.1],[8,1],[11,1],[12,0.05],[15,0.05],[16,1],[20,1],[21,0.1],[22,1],[25,1],[26,0.05],[30,0.05],[31,1],[32,0.05],[33,0.05],[34,1],[35,1],[36,0.1],[37,1],[70,1],[71,0.05],[72,1],[73,0.05],[74,1],[100,1]],
/*53*/ [0.05,0.05,0.08,0.12,0.15,0.17,0.17,0.16,0.14,0.1,0.06,0.03,0.01,0,0.03,0.1,0.25,0.42,0.6,0.8,1.0],
/*54*/ [0.2,0.02,0.06,0.14,0.14,0.06,0.03,0.02,0.05,0.2,0.42,0.47,0.3,0.1,0.03,0.1,0.3,0.5,0.7,0.87,1.0],
/*55*/ [0,0.15,0.38,0.55,0.66,0.72,0.76,0.75,0.7,0.62,0.52,0.41,0.3,0.2,0.12,0.12,0.2,0.32,0.48,0.7,1.0],
/*56*/ [0.02,0.01,0.01,0.03,0.05,0.04,0.02,0.03,0.06,0.11,0.14,0.13,0.08,0.04,0.05,0.12,0.3,0.5,0.68,0.85,1.0],
/*57*/ [0.01,0.01,0.02,0.05,0.08,0.08,0.06,0.05,0.05,0.06,0.06,0.05,0.04,0.05,0.04,0.06,0.2,0.45,0.68,0.85,1.0],
/*58*/ [0.07,0.02,0,0.02,0.05,0.08,0.12,0.16,0.21,0.26,0.28,0.28,0.25,0.18,0.13,0.18,0.35,0.52,0.68,0.85,1.0],
/*59*/ [0.01,0.01,0.02,0.02,0.03,0.03,0.03,0.02,0.02,0.02,0.03,0.03,0.04,0.08,0.15,0.25,0.4,0.58,0.75,0.9,1.0],
/*60*/ [0.05,0,0.02,0.07,0.15,0.24,0.33,0.42,0.51,0.6,0.68,0.75,0.82,0.87,0.92,0.95,0.98,0.99,1.0,1.0,1.0],
/*61*/ [1.0,0.88,0.76,0.65,0.54,0.44,0.34,0.24,0.14,0.05,0,0.03,0.09,0.15,0.22,0.29,0.36,0.44,0.51,0.59,0.67],
/*62*/ [1.0,0.93,0.86,0.8,0.74,0.66,0.56,0.45,0.34,0.22,0.11,0.03,0,0.02,0.07,0.13,0.18,0.23,0.29,0.37,0.48],
/*63*/ [1.0,0.95,0.88,0.79,0.69,0.58,0.47,0.36,0.25,0.14,0.04,0,0.02,0.06,0.11,0.16,0.21,0.26,0.3,0.35,0.41],
/*64*/ [0,0.1,0.25,0.4,0.53,0.65,0.75,0.83,0.89,0.94,0.97,1.0,0.99,0.97,0.94,0.91,0.89,0.88,0.9,0.93,0.97],
/*65*/ [0.37,0.2,0.06,0,0.02,0.15,0.38,0.6,0.75,0.83,0.86,0.87,0.88,0.89,0.9,0.91,0.92,0.93,0.93,0.95,1.0],
/*66*/ [0.13,0.04,0,0.02,0.05,0.08,0.11,0.14,0.19,0.25,0.31,0.4,0.5,0.59,0.67,0.73,0.78,0.84,0.89,0.94,1.0],
/*67*/ [0,0.06,0.15,0.27,0.4,0.54,0.67,0.78,0.87,0.94,0.98,1.0,0.99,0.96,0.92,0.88,0.84,0.81,0.79,0.78,0.8],
/*68*/ [0.06,0.02,0,0.01,0.04,0.09,0.15,0.22,0.3,0.37,0.45,0.51,0.57,0.62,0.67,0.72,0.77,0.82,0.87,0.93,1.0],
/*69*/ [0.03,0.01,0,0,0.02,0.05,0.1,0.15,0.2,0.23,0.26,0.29,0.35,0.42,0.5,0.6,0.7,0.78,0.86,0.94,1.0],
/*70*/ [1.0,0.86,0.72,0.58,0.45,0.32,0.18,0.05,0,0,0.03,0.08,0.14,0.2,0.25,0.3,0.35,0.42,0.52,0.68,0.9],
/*71*/ [1.0,0.82,0.65,0.5,0.36,0.22,0.1,0.02,0,0.03,0.1,0.18,0.26,0.29,0.26,0.16,0.06,0,0,0,0]
];

// x positions of the EI Max, PI Max and UCB Max markers
const eiMax = [0.71,0.487,8.8,0.02,0.395,0.49, 0.70,0.49,25,3.65,1,1.5, 25,1.93,1,1.93,25,1, 1,1,25,2.5,1,1.03,
  25,2.5,1,1.02,1,98.5, 99,98,100,98,100,99, 0,99,0,98,100,98, 74,99,100,98,100,99, 99,99,100,99,40,99, 99,99,100,98,100,99,
  10,10,0.5,0.9,0.00001,200, 0.1,0.1,0.9,9.8,10,0.5];
const piMax = [0.70,0.487,8.8,0.02,0.395,0.49, 0.71,0.49,25,3.65,1,1.5, 1,1.93,1,1.93,25,1, 1,1.93,25,2.5,1,1.93,
  25,2.5,1,1.93,1,98.5, 99,82,100,98,100,99, 0,99,0,98,100,98, 76,99,100,98,100,99, 99,99,93,99,55,99, 99,99,100,98,100,99,
  7.9,28,0.86,0.975,0.0000081,170, 0.05,0.066,0.22,9.8,10,0.5];
const ucbMax = [0.74,0.487,8.8,0.02,0.5,0.49, 0.72,0.49,25,3.95,25,1.6, 1,2.55,1,1.0,25,1, 1,1,25,2.5,1,2.15,
  25,2.5,1,2.6,1,98.5, 99,100,100,98,80,99, 0,99,0,98,100,98, 78,99,100,98,100,99, 99,99,100,99,55,99, 99,99,100,98,100,99,
  9.2,10,0.5,0.9,0.0000055,200, 0.1,0.053,0.9,9.8,10,0.5];

// legend placement
const legendLocs = [
"ul","ul","ul","ur","ul","ul",
"ul","ul","ul","ul","uc","lr",
"c","ur","ur","ur","ul","ur",
"ur","ur","ul","lc","ur","ur",
"ul","lr","ur","ul","uc","ul",
"ul","ul","ul","ul","ul","ul",
"ur","ul","ur","ul","uc","ul",
"ul","ul","ul","ul","ul","ul",
"ul","ul","ul","ul","lr","ul",
"ul","ul","ul","ul","ul","ul",
"ul","uc","ur","ur","c","ul",
"ul","ul","ul","ul","uc","ur"];

const seriesNames = ["EI","PI","UCB"];
const maxNames = ["EI Max","PI Max","UCB Max"];

// ---------- DRAW ----------
const colors = {EI:"#e0456d", PI:"#f7765e", UCB:"#fdb37d"};
const L = {left0:35.6, dx:208.3, top0:11, dy:152.45, w:160, h:104};
const svg = d3.select("#chart");
const line = (x,y)=>d3.line().x(d=>x(d[0])).y(d=>y(d[1])).curve(d3.curveMonotoneX);

titles.forEach((title,i)=>{
  const r = Math.floor(i/6), c = i%6;
  const g = svg.append("g").attr("transform",`translate(${L.left0+c*L.dx},${L.top0+r*L.dy})`);
  const [x0,x1] = xRanges[i];
  const pad = (x1-x0)*0.05;
  const x = d3.scaleLinear().domain([x0-pad,x1+pad]).range([0,L.w]);
  const y = d3.scaleLinear().domain([-0.05,1.05]).range([L.h,0]);
  const toPts = a => (typeof a[0]==="number") ? a.map((v,k)=>[x0+(x1-x0)*k/(a.length-1),v]) : a;

  g.append("clipPath").attr("id","cp"+i).append("rect").attr("width",L.w).attr("height",L.h);
  const plot = g.append("g").attr("clip-path",`url(#cp${i})`);

  const curves = [eiValues[i],piValues[i],ucbValues[i]];
  curves.forEach((arr,k)=>{
    if(!arr) return;
    plot.append("path").datum(toPts(arr))
      .attr("fill","none").attr("stroke",colors[seriesNames[k]])
      .attr("stroke-width",1.1).attr("stroke-linejoin","round")
      .attr("d",line(x,y));
  });
  [eiMax[i],piMax[i],ucbMax[i]].forEach((v,k)=>{
    plot.append("line").attr("x1",x(v)).attr("x2",x(v)).attr("y1",0).attr("y2",L.h)
      .attr("stroke",colors[seriesNames[k]]).attr("stroke-width",0.9)
      .attr("stroke-dasharray","2.6,1.2").attr("opacity",0.85);
  });

  // axes
  const xt = xTickLabels[i];
  const xAxis = d3.axisBottom(x).tickValues(xt.map(Number)).tickFormat((d,k)=>xt[k]).tickSize(2.5).tickPadding(1.2);
  const yAxis = d3.axisLeft(y).tickValues(yTickLabels.map(Number)).tickFormat((d,k)=>yTickLabels[k]).tickSize(2.5).tickPadding(1.2);
  const gx = g.append("g").attr("transform",`translate(0,${L.h})`).call(xAxis);
  const gy = g.append("g").call(yAxis);
  [gx,gy].forEach(a=>{
    a.select(".domain").remove();
    a.selectAll("text").attr("font-size","6.5px").attr("fill","#000").attr("font-family","DejaVu Sans");
    a.selectAll("line").attr("stroke","#000").attr("stroke-width",0.6);
  });
  g.append("rect").attr("width",L.w).attr("height",L.h).attr("fill","none").attr("stroke","#000").attr("stroke-width",0.8);

  g.append("text").attr("x",L.w/2).attr("y",-3).attr("text-anchor","middle")
    .attr("font-size","7px").text(title);
  g.append("text").attr("transform",`translate(${-22},${L.h/2}) rotate(-90)`)
    .attr("text-anchor","middle").attr("font-size","7px").text("Acquisition Value");

  // legend
  const entries = [];
  curves.forEach((arr,k)=>{ if(arr) entries.push({name:seriesNames[k],color:colors[seriesNames[k]],dash:null}); });
  maxNames.forEach((n,k)=>entries.push({name:n,color:colors[seriesNames[k]],dash:"2,1"}));
  const lw = 40, step = 7.2, lh = 4 + entries.length*step;
  const loc = legendLocs[i], m = 2;
  let lx = m, ly = m;
  if(loc==="ur"||loc==="lr") lx = L.w-m-lw;
  if(loc==="uc"||loc==="lc"||loc==="c") lx = (L.w-lw)/2;
  if(loc==="lr"||loc==="lc") ly = L.h-m-lh;
  if(loc==="c") ly = (L.h-lh)/2;
  const lg = g.append("g").attr("transform",`translate(${lx},${ly})`);
  lg.append("rect").attr("width",lw).attr("height",lh).attr("rx",1.5)
    .attr("fill","#fff").attr("fill-opacity",0.8).attr("stroke","#d6d6d6").attr("stroke-width",0.6);
  entries.forEach((e,k)=>{
    const yy = 5.5 + k*step;
    lg.append("line").attr("x1",3).attr("x2",12).attr("y1",yy).attr("y2",yy)
      .attr("stroke",e.color).attr("stroke-width",1.1).attr("stroke-dasharray",e.dash);
    lg.append("text").attr("x",15).attr("y",yy+1.6).attr("font-size","4.5px").text(e.name);
  });
});
</script>
</body></html>
